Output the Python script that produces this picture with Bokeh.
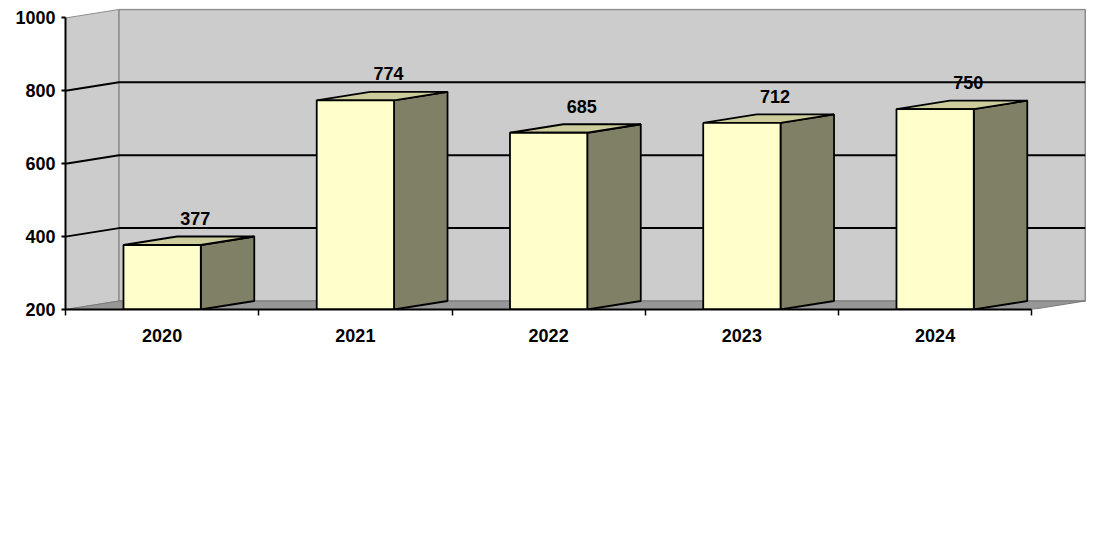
import numpy as np
from bokeh.plotting import figure
from bokeh.models import FixedTicker, ColumnDataSource, Range1d, LabelSet
from bokeh.core.properties import value
from bokeh.embed import file_html
from bokeh.resources import INLINE

# chart values
years = ["2020", "2021", "2022", "2023", "2024"]
counts = [377, 774, 685, 712, 750]
y_ticks = [200, 400, 600, 800, 1000]
grid_levels = [400, 600, 800]

FONT = "Liberation Sans"

# 3D look: depth offset in data units, bar width as a fraction of a category
n = len(years)
px_per_cat = 193.25
dx = 53.5 / px_per_cat
base = y_ticks[0]
top = y_ticks[-1]
frame_w = 1025
frame_h = 301
y_end = 1026
ppu = frame_h / (y_end - base)
dy = 8.5 / ppu
bw = 0.4

p = figure(width=1098, height=360, output_backend="svg", toolbar_location=None,
           x_range=Range1d(0, frame_w / px_per_cat), y_range=Range1d(base, y_end),
           min_border_left=65, min_border_right=8, min_border_top=8, min_border_bottom=51)
p.outline_line_color = None
p.grid.grid_line_color = None
p.background_fill_color = "white"

# left side wall and back wall
p.patch([0, dx, dx, 0], [base, base + dy, top + dy, top],
        fill_color="#cccccc", line_color="#8c8c8c", line_width=1)
p.patch([dx, n + dx, n + dx, dx], [base + dy, base + dy, top + dy, top + dy],
        fill_color="#cccccc", line_color="#8c8c8c", line_width=1.5)
# floor
p.patch([0, n, n + dx, dx], [base, base, base + dy, base + dy],
        fill_color="#979797", line_color="#7a7a7a", line_width=1)

# gridlines running along side wall then back wall
p.multi_line([[0, dx, n + dx] for g in grid_levels],
             [[g, g + dy, g + dy] for g in grid_levels],
             line_color="black", line_width=2)

# bars: front face, right side, top
idx = np.arange(n)
left = idx + 0.5 - bw / 2
right = idx + 0.5 + bw / 2
vals = np.array(counts)

side_xs = [[r, r + dx, r + dx, r] for r in right]
side_ys = [[base, base + dy, v + dy, v] for v in vals]
p.patches(side_xs, side_ys, fill_color="#808066", line_color="black", line_width=1.8)

top_xs = [[l, r, r + dx, l + dx] for l, r in zip(left, right)]
top_ys = [[v, v, v + dy, v + dy] for v in vals]
p.patches(top_xs, top_ys, fill_color="#cccc9c", line_color="black", line_width=1.8)

p.quad(left=left, right=right, bottom=base, top=vals,
       fill_color="#ffffcc", line_color="black", line_width=1.8)

# value labels
lab = ColumnDataSource(dict(x=idx + 0.5 + 0.62 * dx, y=vals + dy / 2,
                            t=[str(c) for c in counts]))
labels = LabelSet(x="x", y="y", text="t", source=lab, text_align="center",
                  text_baseline="alphabetic", y_offset=16,
                  text_font=value(FONT), text_font_style="bold", text_font_size="18px",
                  text_color="black")
p.add_layout(labels)

# y axis on front plane
p.yaxis.ticker = FixedTicker(ticks=y_ticks)
p.yaxis.bounds = (base, top)
p.yaxis.axis_line_width = 2
p.yaxis.axis_line_color = "black"
p.yaxis.major_tick_out = 4
p.yaxis.major_tick_in = 0
p.yaxis.major_tick_line_width = 2
p.yaxis.minor_tick_line_color = None
p.yaxis.major_label_standoff = 6
p.yaxis.major_label_text_font = FONT
p.yaxis.major_label_text_font_style = "bold"
p.yaxis.major_label_text_font_size = "18px"
p.yaxis.major_label_text_color = "black"

# x axis: labels at category centres, ticks at category edges
centers = [i + 0.5 for i in range(n)]
p.xaxis.ticker = FixedTicker(ticks=centers, minor_ticks=list(range(n + 1)))
p.xaxis.major_label_overrides = {c: y for c, y in zip(centers, years)}
p.xaxis.bounds = (0, n)
p.xaxis.axis_line_width = 2
p.xaxis.axis_line_color = "black"
p.xaxis.major_tick_out = 0
p.xaxis.major_tick_in = 0
p.xaxis.minor_tick_out = 6
p.xaxis.minor_tick_in = 0
p.xaxis.minor_tick_line_width = 1.5
p.xaxis.minor_tick_line_color = "black"
p.xaxis.major_label_standoff = 13
p.xaxis.major_label_text_font = FONT
p.xaxis.major_label_text_font_style = "bold"
p.xaxis.major_label_text_font_size = "18px"
p.xaxis.major_label_text_color = "black"

open("out.html", "w").write(file_html(p, INLINE))
